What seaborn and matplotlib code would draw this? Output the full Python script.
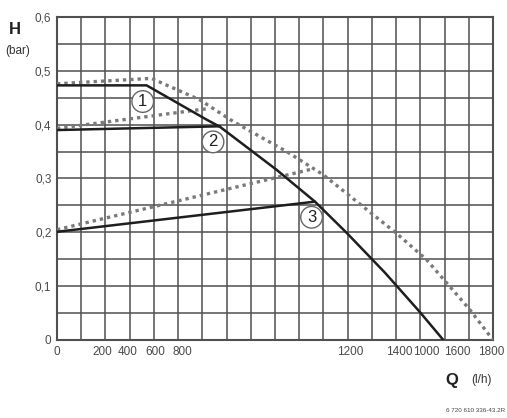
import matplotlib
matplotlib.use("Agg")
import matplotlib.pyplot as plt
import seaborn as sns
import numpy as np

sns.set_theme(style="white")
plt.rcParams['font.family'] = ['Liberation Sans', 'DejaVu Sans']

# --- data (Q in l/h, H in bar) ---
main_q = [0, 370, 619, 673, 907, 1065, 1196, 1354, 1498, 1595]
main_h = [0.473, 0.473, 0.409, 0.396, 0.316, 0.257, 0.199, 0.125, 0.052, 0.0]
stage2_q = [0, 673]
stage2_h = [0.390, 0.397]
stage3_q = [0, 1065]
stage3_h = [0.201, 0.257]

dot1_q = [0, 390, 590, 727, 948, 1099, 1402, 1526, 1705, 1800]
dot1_h = [0.476, 0.486, 0.446, 0.406, 0.350, 0.307, 0.198, 0.149, 0.056, 0.0]
dot2_q = [0, 625]
dot2_h = [0.393, 0.430]
dot3_q = [0, 1057]
dot3_h = [0.205, 0.318]

labels = ["1", "2", "3"]
label_q = [354, 644, 1051]
label_h = [0.443, 0.368, 0.228]

xtick_pos = [0, 188, 293, 405, 516, 1209, 1412, 1523, 1651, 1791]
xtick_lab = ["0", "200", "400", "600", "800", "1200", "1400", "1000", "1600", "1800"]
ytick_pos = [0, 0.1, 0.2, 0.3, 0.4, 0.5, 0.6]
ytick_lab = ["0", "0,1", "0,2", "0,3", "0,4", "0,5", "0,6"]

fig = plt.figure(figsize=(5.07, 4.18), dpi=100)
ax = fig.add_axes([57/507, 1-340/418, 436/507, 323/418])

grid_c = "#505050"
for q in range(0, 1801, 100):
    ax.axvline(q, color=grid_c, lw=1.1, zorder=1)
for h in np.arange(0, 0.6001, 0.05):
    ax.axhline(h, color=grid_c, lw=1.1, zorder=1)

dot_c = "#7a7a7a"
for qq, hh in [(dot1_q, dot1_h), (dot2_q, dot2_h), (dot3_q, dot3_h)]:
    sns.lineplot(x=qq, y=hh, ax=ax, sort=False, estimator=None, color=dot_c,
                 lw=2.4, linestyle=(0, (1, 1.2)), zorder=3)
sol_c = "#1e1e1e"
for qq, hh in [(main_q, main_h), (stage2_q, stage2_h), (stage3_q, stage3_h)]:
    sns.lineplot(x=qq, y=hh, ax=ax, sort=False, estimator=None, color=sol_c,
                 lw=1.8, zorder=4)

for t, q, h in zip(labels, label_q, label_h):
    ax.text(q, h, t, ha="center", va="center", fontsize=12, color="#222222", zorder=6,
            bbox=dict(boxstyle="circle,pad=0.2", fc="white", ec="#666666", lw=1.0))

ax.set_xlim(0, 1800)
ax.set_ylim(0, 0.6)
ax.set_xticks(xtick_pos)
ax.set_xticklabels(xtick_lab)
ax.set_yticks(ytick_pos)
ax.set_yticklabels(ytick_lab)
ax.tick_params(length=0, labelsize=8.5, colors="#4a4a4a", pad=4)
ax.set_xlabel("")
ax.set_ylabel("")
for s in ax.spines.values():
    s.set_color(grid_c)
    s.set_linewidth(1.5)

fig.text(15/507, 1-29/418, "H", fontsize=12, fontweight="bold", ha="center", va="center", color="#222222")
fig.text(18/507, 1-51/418, "(bar)", fontsize=8.5, ha="center", va="center", color="#333333")
fig.text(452/507, 1-380/418, "Q", fontsize=12, fontweight="bold", ha="center", va="center", color="#222222")
fig.text(481/507, 1-380/418, "(l/h)", fontsize=8.5, ha="center", va="center", color="#333333")
fig.text(505/507, 1-410/418, "6 720 610 336-43.2R", fontsize=4.5, ha="right", va="center", color="#444444")

fig.savefig("out.png", dpi=100, facecolor="white")
